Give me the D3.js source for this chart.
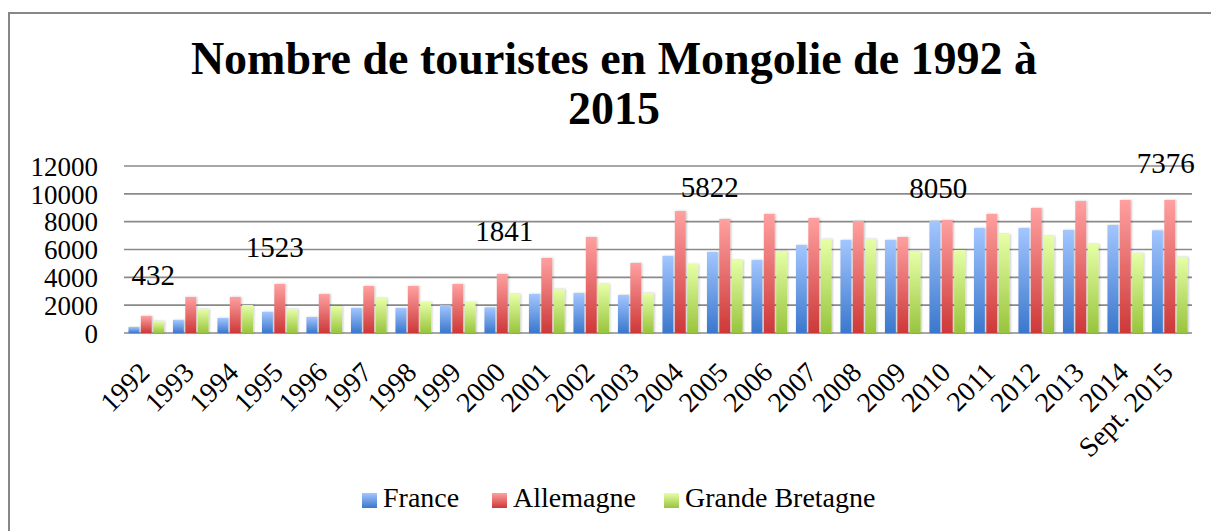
<!DOCTYPE html>
<html>
<head>
<meta charset="utf-8">
<script src="https://cdn.jsdelivr.net/npm/d3@7"></script>
<style>
  html, body { margin: 0; padding: 0; background: #fff; }
  svg { display: block; }
  text { font-family: "Liberation Serif", "DejaVu Serif", serif; fill: #000; }
</style>
</head>
<body>
<svg id="chart" width="1211" height="531"></svg>
<script>
// Tourist arrivals in Mongolia by country of origin
const years = ["1992","1993","1994","1995","1996","1997","1998","1999","2000","2001","2002","2003",
               "2004","2005","2006","2007","2008","2009","2010","2011","2012","2013","2014","Sept. 2015"];
const france     = [432, 930, 1080, 1523, 1150, 1800, 1800, 2010, 1841, 2800, 2870, 2730,
                    5530, 5822, 5240, 6320, 6680, 6680, 8050, 7540, 7540, 7400, 7760, 7376];
const allemagne  = [1220, 2590, 2590, 3520, 2800, 3380, 3380, 3520, 4240, 5390, 6900, 5030,
                    8760, 8190, 8550, 8260, 8050, 6900, 8120, 8550, 8980, 9480, 9560, 9560];
const grandeBret = [860, 1720, 2010, 1720, 1940, 2510, 2230, 2230, 2800, 3160, 3520, 2870,
                    4960, 5240, 5890, 6750, 6750, 5820, 5960, 7110, 6970, 6390, 5750, 5460];
const seriesNames = ["France", "Allemagne", "Grande Bretagne"];
const yTicks = [0, 2000, 4000, 6000, 8000, 10000, 12000];
// France values shown as labels (category index)
const labelled = [0, 3, 8, 13, 18, 23];

const series = [france, allemagne, grandeBret];
const palette = [
  { id: "gFr", top: "#a3c6ff", bottom: "#3a77cc" },
  { id: "gDe", top: "#ffa0a0", bottom: "#cd3838" },
  { id: "gGb", top: "#e6ffa6", bottom: "#98c43c" }
];

const svg = d3.select("#chart");
const defs = svg.append("defs");
palette.forEach(p => {
  const g = defs.append("linearGradient").attr("id", p.id)
    .attr("x1", 0).attr("y1", 0).attr("x2", 0).attr("y2", 1);
  g.append("stop").attr("offset", "0%").attr("stop-color", p.top);
  g.append("stop").attr("offset", "100%").attr("stop-color", p.bottom);
});
const shadow = defs.append("filter").attr("id", "shadow")
  .attr("x", "-30%").attr("y", "-10%").attr("width", "160%").attr("height", "120%");
shadow.append("feDropShadow").attr("dx", 1).attr("dy", 0).attr("stdDeviation", 1.2)
  .attr("flood-color", "#000").attr("flood-opacity", 0.25);

// outer frame (left and top edges)
svg.append("path")
  .attr("d", "M9,531 V13 H1211")
  .attr("fill", "none").attr("stroke", "#878787").attr("stroke-width", 2);

// title
const title = svg.append("text").attr("text-anchor", "middle")
  .style("font-size", "46px").style("font-weight", "bold");
title.append("tspan").attr("x", 614).attr("y", 74).text("Nombre de touristes en Mongolie de 1992 à");
title.append("tspan").attr("x", 614).attr("y", 124).text("2015");

const plotLeft = 124, plotRight = 1192, plotTop = 166, plotBottom = 333;
const x = d3.scaleBand().domain(years).range([plotLeft, plotRight]).paddingInner(0.2).paddingOuter(0.1);
const xs = d3.scaleBand().domain(d3.range(3)).range([0, x.bandwidth()]).paddingInner(0.12);
const y = d3.scaleLinear().domain([0, 12000]).range([plotBottom, plotTop]);

// gridlines
svg.append("g").selectAll("line").data(yTicks).join("line")
  .attr("x1", plotLeft).attr("x2", plotRight)
  .attr("y1", d => y(d)).attr("y2", d => y(d))
  .attr("stroke", "#8a8a8a").attr("stroke-width", 1.6);

// y axis labels
const yAxis = svg.append("g").attr("transform", `translate(${plotLeft - 26},0)`)
  .call(d3.axisLeft(y).tickValues(yTicks).tickSize(0).tickPadding(0).tickFormat(d3.format("d")));
yAxis.select(".domain").remove();
yAxis.selectAll("text").attr("font-family", null).style("font-size", "27px").attr("dy", "0.34em");

// bars
const groups = svg.append("g").selectAll("g").data(years).join("g")
  .attr("transform", d => `translate(${x(d)},0)`);
groups.selectAll("rect").data((d, i) => series.map((s, k) => ({ k, v: s[i] }))).join("rect")
  .attr("x", d => xs(d.k))
  .attr("width", xs.bandwidth())
  .attr("y", d => y(d.v))
  .attr("height", d => y(0) - y(d.v))
  .attr("fill", d => `url(#${palette[d.k].id})`)
  .attr("filter", "url(#shadow)");

// x axis labels, rotated
const xAxis = svg.append("g").attr("transform", `translate(5,${plotBottom + 41})`)
  .call(d3.axisBottom(x).tickSize(0).tickPadding(0));
xAxis.select(".domain").remove();
xAxis.selectAll("text").attr("font-family", null).style("font-size", "28px")
  .attr("text-anchor", "end").attr("dy", 0).attr("y", 0)
  .attr("transform", "rotate(-45)");

// value labels for France
const nudge = [[7, -42], [-5, -55], [2, -66], [-15, -55], [-9, -23], [-4, -57]];
svg.append("g").selectAll("text").data(labelled).join("text")
  .attr("text-anchor", "middle")
  .style("font-size", "29px")
  .attr("x", (d, i) => x(years[d]) + x.bandwidth() / 2 + nudge[i][0])
  .attr("y", (d, i) => y(france[d]) + nudge[i][1])
  .text(d => france[d]);

// legend
const legendX = [362, 492, 664];
const legend = svg.append("g").selectAll("g").data(seriesNames).join("g")
  .attr("transform", (d, i) => `translate(${legendX[i]},493)`);
legend.append("rect").attr("width", 15).attr("height", 15)
  .attr("fill", (d, i) => `url(#${palette[i].id})`);
legend.append("text").attr("x", 21).attr("y", 14).style("font-size", "28px").text(d => d);
</script>
</body>
</html>
